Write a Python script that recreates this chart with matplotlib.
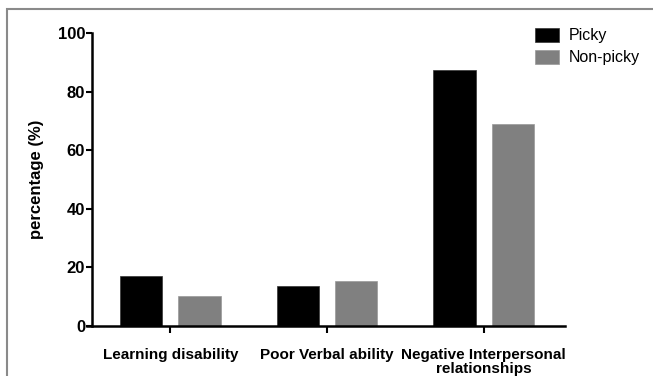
import numpy as np
import matplotlib
matplotlib.use("Agg")
from matplotlib import pyplot as plt
from matplotlib.patches import Rectangle

categories = ["Learning disability", "Poor Verbal ability", "Negative Interpersonal\nrelationships"]
picky = [17.0, 13.7, 87.5]
non_picky = [10.3, 15.4, 69.1]
yticks = [0, 20, 40, 60, 80, 100]

plt.rcParams['font.family'] = ['Liberation Sans', 'DejaVu Sans']

fig = plt.figure(figsize=(6.53, 3.76), dpi=100)
ax = fig.add_axes([92/653, 1-326/376, (562-92)/653, (326-33)/376])

# gray frame round the figure
fig.patches.append(Rectangle((7/653, -0.05), 1.0, 1-9/376+0.05, transform=fig.transFigure,
                             fill=False, edgecolor='#8a8a8a', linewidth=1.5))

x = np.arange(len(categories))
w = 0.27
off = 0.186
ax.bar(x-off, picky, w, color='black', edgecolor='#333333', linewidth=0.5, label='Picky')
ax.bar(x+off, non_picky, w, color='#808080', edgecolor='#999999', linewidth=0.5, label='Non-picky')

ax.set_xlim(-0.5, 2.5)
ax.set_ylim(0, 100)
ax.set_yticks(yticks)
ax.set_xticks(x)
ax.set_xticklabels(categories, fontsize=11, fontweight='bold', linespacing=1.0)
for t in ax.get_yticklabels():
    t.set_fontsize(12)
    t.set_fontweight('bold')
ax.set_ylabel('percentage (%)', fontsize=12, fontweight='bold', labelpad=10)

for s in ['top', 'right']:
    ax.spines[s].set_visible(False)
for s in ['left', 'bottom']:
    ax.spines[s].set_linewidth(1.8)
ax.spines['bottom'].set_bounds(-0.53, 2.52)
ax.tick_params(axis='y', direction='out', length=4, width=1.5, pad=1)
ax.tick_params(axis='x', direction='out', length=5, width=1.5, pad=11)

ax.legend(loc='upper left', bbox_to_anchor=(0.93, 1.04), frameon=False, fontsize=11.5,
          handlelength=1.5, handleheight=1.0, handletextpad=0.6, labelspacing=0.4,
          borderaxespad=0)

fig.savefig('out.png', dpi=100)
